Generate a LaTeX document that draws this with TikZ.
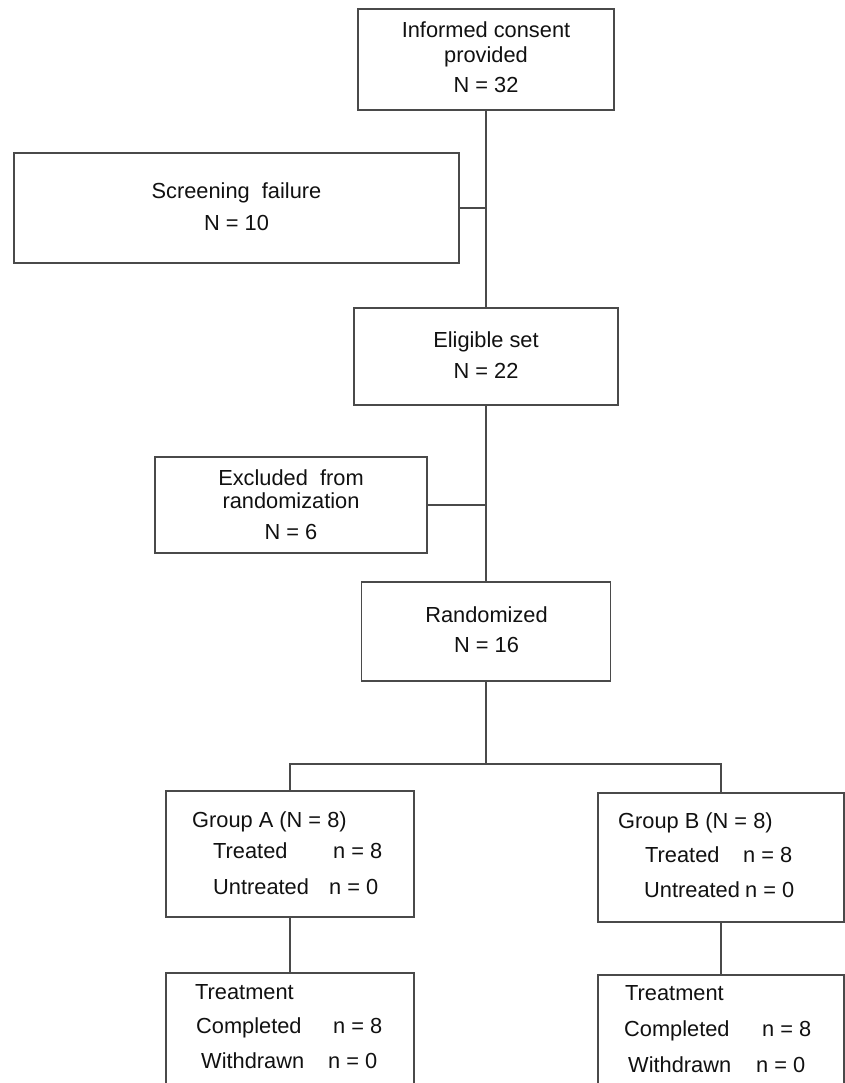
\documentclass[tikz,border=0pt]{standalone}
\usepackage{fontspec}
\setmainfont{Liberation Sans}
\definecolor{linec}{HTML}{4A4A4A}
\definecolor{txtc}{HTML}{111111}
\begin{document}
\begin{tikzpicture}[x=1pt,y=-1pt,
  box/.style={draw=linec,line width=1.4pt,rectangle,inner sep=0pt,outer sep=0pt},
  conn/.style={draw=linec,line width=1.4pt},
  lbl/.style={text=txtc,font=\fontsize{21.8}{25}\selectfont,inner sep=0pt,anchor=base},
  lblw/.style={lbl,anchor=base west}]
\fill[white] (0,0) rectangle (845,1083);
\clip (0,0) rectangle (845,1083);
\useasboundingbox (0,0) rectangle (845,1083);
% boxes
\node[box,minimum width=256pt,minimum height=101pt] (consent) at (486,59.5) {};
\node[box,minimum width=445pt,minimum height=110pt] (screen) at (236.5,208) {};
\node[box,minimum width=264pt,minimum height=97pt] (elig) at (486,356.5) {};
\node[box,minimum width=272pt,minimum height=96pt] (excl) at (291,505) {};
\node[box,minimum width=249pt,minimum height=99pt] (rand) at (486,631.5) {};
\node[box,minimum width=248pt,minimum height=126pt] (ga) at (290,854) {};
\node[box,minimum width=246pt,minimum height=129pt] (gb) at (721,857.5) {};
\node[box,minimum width=248pt,minimum height=137pt] (ta) at (290,1041.5) {};
\node[box,minimum width=246pt,minimum height=137pt] (tb) at (721,1043.5) {};
% texts
\node[lbl] (c1) at (486,38) {Informed consent};
\node[lbl] (c2) at (486,63) {provided};
\node[lbl] (c3) at (486,93) {N = 32};
\node[lbl] (s1) at (236.5,199) {Screening\ \ failure};
\node[lbl] (s2) at (236.5,230) {N = 10};
\node[lbl] (e1) at (486,347) {Eligible set};
\node[lbl] (e2) at (486,378) {N = 22};
\node[lbl] (x1) at (291,485) {Excluded\ \ from};
\node[lbl] (x2) at (291,508) {randomization};
\node[lbl] (x3) at (291,539) {N = 6};
\node[lbl] (r1) at (486.5,622) {Randomized};
\node[lbl] (r2) at (486.5,652) {N = 16};
\node[lblw] (ga1) at (192,827) {Group A (N = 8)};
\node[lblw] (ga2) at (213,858) {Treated};
\node[lblw] (ga3) at (333,858) {n = 8};
\node[lblw] (ga4) at (213,894) {Untreated};
\node[lblw] (ga5) at (329,894) {n = 0};
\node[lblw] (gb1) at (618,828) {Group B (N = 8)};
\node[lblw] (gb2) at (645,862) {Treated};
\node[lblw] (gb3) at (743,862) {n = 8};
\node[lblw] (gb4) at (644,897) {Untreated};
\node[lblw] (gb5) at (745,897) {n = 0};
\node[lblw] (ta1) at (195,999) {Treatment};
\node[lblw] (ta2) at (196,1033) {Completed};
\node[lblw] (ta3) at (333,1033) {n = 8};
\node[lblw] (ta4) at (201,1068) {Withdrawn};
\node[lblw] (ta5) at (328,1068) {n = 0};
\node[lblw] (tb1) at (625,1000) {Treatment};
\node[lblw] (tb2) at (624,1036) {Completed};
\node[lblw] (tb3) at (762,1036) {n = 8};
\node[lblw] (tb4) at (628,1072) {Withdrawn};
\node[lblw] (tb5) at (756,1072) {n = 0};
% connectors
\draw[conn] (consent.south) -- (elig.north);
\draw[conn] (screen.east) -- (screen.east -| consent.south);
\draw[conn] (elig.south) -- (rand.north);
\draw[conn] (excl.east) -- (excl.east -| elig.south);
\coordinate (j) at (486,764);
\draw[conn] (rand.south) -- (j);
\draw[conn] (j) -| (ga.north);
\draw[conn] (j) -| (gb.north);
\draw[conn] (ga.south) -- (ta.north);
\draw[conn] (gb.south) -- (tb.north);
\end{tikzpicture}
\end{document}
